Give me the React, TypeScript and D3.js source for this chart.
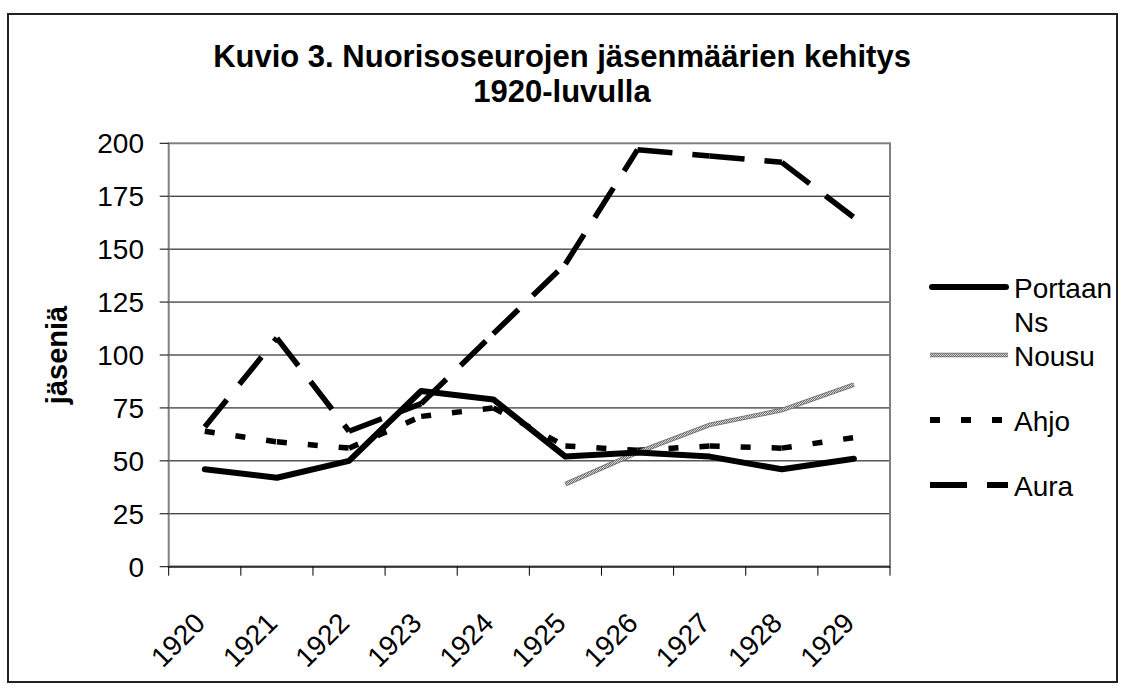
import React from "react";
import * as d3 from "d3";

const years = ["1920", "1921", "1922", "1923", "1924", "1925", "1926", "1927", "1928", "1929"];
const portaan: (number | null)[] = [46, 42, 50, 83, 79, 52, 54, 52, 46, 51];
const nousu: (number | null)[] = [null, null, null, null, null, 39, 54, 67, 74, 86];
const ahjo: (number | null)[] = [64, 59, 56, 71, 75, 57, 55, 57, 56, 61];
const aura: (number | null)[] = [66, 108, 64, 77, 110, 143, 197, 194, 191, 165];
const yTicks = [0, 25, 50, 75, 100, 125, 150, 175, 200];

const W = 1125;
const H = 690;
const L = 168.7, R = 890, T = 143.3, B = 566.7;
const FONT = "'Liberation Sans', Arial, sans-serif";

export default function App() {
  const x = d3.scaleBand<string>().domain(years).range([L, R]);
  const cx = (yr: string) => (x(yr) as number) + x.bandwidth() / 2;
  const y = d3.scaleLinear().domain([0, 200]).range([B, T]);

  const pts = (vals: (number | null)[]) =>
    vals.map((v, i) => (v == null ? null : ([cx(years[i]), y(v)] as [number, number])));

  const solidLine = d3
    .line<[number, number] | null>()
    .defined((d) => d != null)
    .x((d) => (d as [number, number])[0])
    .y((d) => (d as [number, number])[1]);

  const segments = (vals: (number | null)[]) => {
    const p = pts(vals);
    const out: [number, number, number, number][] = [];
    for (let i = 0; i < p.length - 1; i++) {
      const a = p[i], b = p[i + 1];
      if (a && b) out.push([a[0], a[1], b[0], b[1]]);
    }
    return out;
  };

  const boundaries = d3.range(years.length + 1).map((i) => L + i * x.step());

  const legendX1 = 930, legendX2 = 1008, legendTx = 1014;
  const legFont = 28;

  return (
    <svg
      width={W}
      height={H}
      style={{ position: "absolute", left: 0, top: 0, background: "#fff" }}
      fontFamily={FONT}
    >
      <defs>
        <pattern id="hatch" width="2" height="2" patternUnits="userSpaceOnUse">
          <rect width="2" height="2" fill="#d8d8d8" />
          <rect x="0" y="0" width="1" height="1" fill="#707070" />
          <rect x="1" y="1" width="1" height="1" fill="#707070" />
        </pattern>
      </defs>
      <rect x={0} y={0} width={W} height={H} fill="#fff" />
      {/* outer frame */}
      <rect x={8} y={14} width={1109} height={668} fill="none" stroke="#222" strokeWidth={2} />

      {/* title */}
      <text x={562} y={67} textAnchor="middle" fontSize={31} fontWeight="bold" fill="#000">
        Kuvio 3. Nuorisoseurojen jäsenmäärien kehitys
      </text>
      <text x={562} y={102} textAnchor="middle" fontSize={31} fontWeight="bold" fill="#000">
        1920-luvulla
      </text>

      {/* gridlines */}
      {yTicks.filter((t) => t > 0 && t < 200).map((t) => (
        <line key={t} x1={L} x2={R} y1={y(t)} y2={y(t)} stroke="#000" strokeWidth={1} />
      ))}
      {/* plot frame */}
      <rect x={L} y={T} width={R - L} height={B - T} fill="none" stroke="#808080" strokeWidth={2} />
      <line x1={L} x2={R} y1={B} y2={B} stroke="#333" strokeWidth={2} />

      {/* y ticks + labels */}
      {yTicks.map((t) => (
        <g key={t}>
          <line x1={L - 9} x2={L} y1={y(t)} y2={y(t)} stroke="#000" strokeWidth={1} />
          <text x={144} y={y(t)} dy="0.35em" textAnchor="end" fontSize={legFont} fill="#000">
            {t}
          </text>
        </g>
      ))}
      <text
        transform={`translate(67, ${(T + B) / 2}) rotate(-90)`}
        textAnchor="middle"
        fontSize={29}
        fontWeight="bold"
        fill="#000"
      >
        jäseniä
      </text>

      {/* x ticks */}
      {boundaries.map((bx, i) => (
        <line key={i} x1={bx} x2={bx} y1={B} y2={B + 9} stroke="#000" strokeWidth={1} />
      ))}
      {years.map((yr) => (
        <text
          key={yr}
          transform={`translate(${cx(yr) + 2}, ${B + 58}) rotate(-45)`}
          textAnchor="end"
          fontSize={legFont}
          fill="#000"
        >
          {yr}
        </text>
      ))}

      {/* series */}
      {segments(aura).map((s, i) => (
        <line key={"au" + i} x1={s[0]} y1={s[1]} x2={s[2]} y2={s[3]} stroke="#000" strokeWidth={5.5} strokeDasharray="35 20" />
      ))}
      {segments(ahjo).map((s, i) => (
        <line key={"ah" + i} x1={s[0]} y1={s[1]} x2={s[2]} y2={s[3]} stroke="#000" strokeWidth={5.5} strokeDasharray="10 21" />
      ))}
      <path d={solidLine(pts(nousu)) || ""} fill="none" stroke="#6a6a6a" strokeWidth={4.5} />
      <path d={solidLine(pts(nousu)) || ""} fill="none" stroke="url(#hatch)" strokeWidth={3} />
      <path
        d={solidLine(pts(portaan)) || ""}
        fill="none"
        stroke="#000"
        strokeWidth={6}
        strokeLinejoin="round"
        strokeLinecap="round"
      />

      {/* legend */}
      <line x1={legendX1 + 2} x2={legendX2 - 2} y1={287} y2={287} stroke="#000" strokeWidth={6} strokeLinecap="round" />
      <text x={legendTx} y={298} fontSize={legFont} fill="#000">Portaan</text>
      <text x={legendTx} y={332} fontSize={legFont} fill="#000">Ns</text>

      <line x1={legendX1} x2={legendX2} y1={355} y2={355} stroke="#6a6a6a" strokeWidth={4.5} />
      <line x1={legendX1} x2={legendX2} y1={355} y2={355} stroke="url(#hatch)" strokeWidth={3} />
      <text x={legendTx} y={366} fontSize={legFont} fill="#000">Nousu</text>

      <line x1={legendX1} x2={legendX2} y1={420} y2={420} stroke="#000" strokeWidth={6} strokeDasharray="10 21" />
      <text x={legendTx} y={431} fontSize={legFont} fill="#000">Ahjo</text>

      <line x1={legendX1} x2={legendX2} y1={485} y2={485} stroke="#000" strokeWidth={6} strokeDasharray="37 20" />
      <text x={legendTx} y={496} fontSize={legFont} fill="#000">Aura</text>
    </svg>
  );
}
